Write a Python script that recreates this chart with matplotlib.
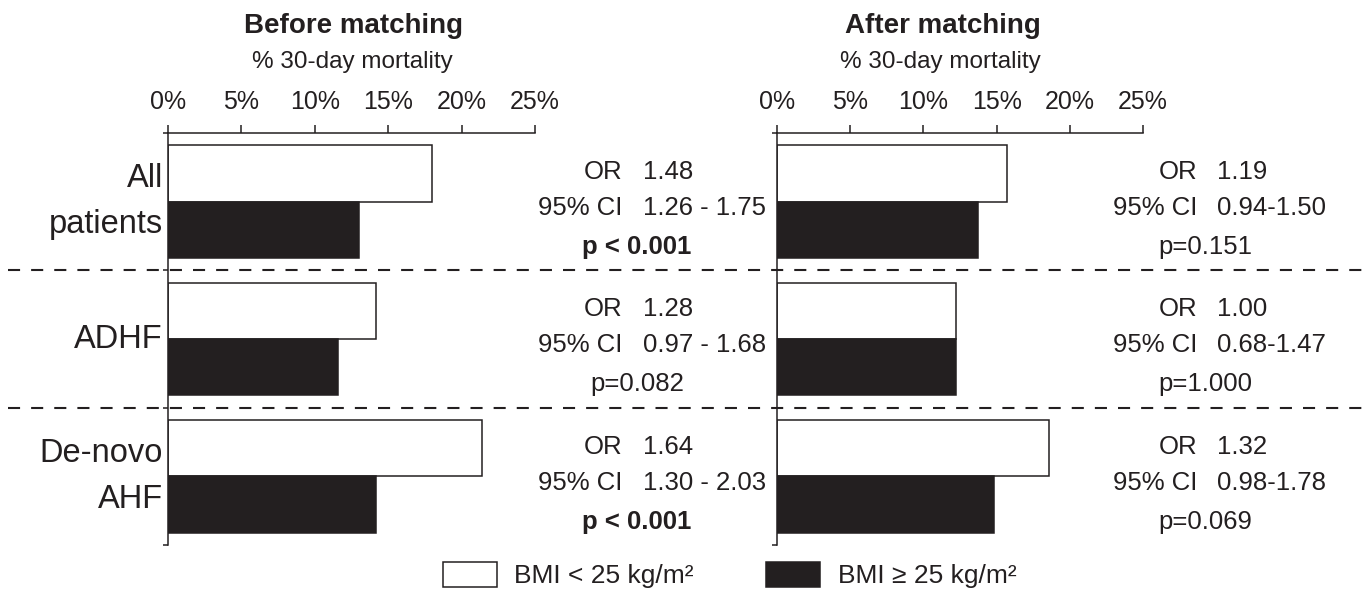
import numpy as np
import matplotlib
matplotlib.use('Agg')
import matplotlib.pyplot as plt
from matplotlib.lines import Line2D
from matplotlib.transforms import blended_transform_factory

plt.rcParams['font.family'] = ['Liberation Sans', 'DejaVu Sans']

# ---------------------------------------------------------------------------
# Data (% 30-day mortality)
# ---------------------------------------------------------------------------
groups = ['All\npatients', 'ADHF', 'De-novo\nAHF']

before_low = [18.0, 14.2, 21.4]     # BMI < 25
before_high = [13.0, 11.6, 14.2]    # BMI >= 25
after_low = [15.7, 12.2, 18.6]
after_high = [13.7, 12.2, 14.8]

before_or = ['1.48', '1.28', '1.64']
before_ci = ['1.26 - 1.75', '0.97 - 1.68', '1.30 - 2.03']
before_p = ['p < 0.001', 'p=0.082', 'p < 0.001']
before_p_bold = [True, False, True]

after_or = ['1.19', '1.00', '1.32']
after_ci = ['0.94-1.50', '0.68-1.47', '0.98-1.78']
after_p = ['p=0.151', 'p=1.000', 'p=0.069']
after_p_bold = [False, False, False]

xticks = [0, 5, 10, 15, 20, 25]
xticklabels = ['0%', '5%', '10%', '15%', '20%', '25%']
legend_labels = ['BMI < 25 kg/m²', 'BMI ≥ 25 kg/m²']

# ---------------------------------------------------------------------------
# Layout
# ---------------------------------------------------------------------------
W, H = 1372, 590
ink = '#231f20'
lw = 1.1

fig = plt.figure(figsize=(W / 100, H / 100), dpi=100)
ax1 = fig.add_axes([168 / W, 1 - 545 / H, 367 / W, 412 / H])
ax2 = fig.add_axes([777 / W, 1 - 545 / H, 366 / W, 412 / H])

ypos = np.arange(len(groups)) + 0.5
bh = 0.41
px = 412 / 3  # pixels per group


def panel(ax, low, high, show_labels):
    ax.barh(ypos - bh / 2, low, height=bh, color='white', edgecolor=ink,
            linewidth=lw, label=legend_labels[0])
    ax.barh(ypos + bh / 2, high, height=bh, color=ink, edgecolor=ink,
            linewidth=lw, label=legend_labels[1])
    ax.set_xlim(0, 25)
    ax.set_ylim(3, 0)
    for s in ['right', 'bottom']:
        ax.spines[s].set_visible(False)
    for s in ['left', 'top']:
        ax.spines[s].set_linewidth(lw)
        ax.spines[s].set_color(ink)
    ax.xaxis.tick_top()
    ax.set_xticks(xticks)
    ax.set_xticklabels(xticklabels)
    ax.tick_params(axis='x', direction='out', length=5.8, width=lw,
                   pad=8, labelsize=18, colors=ink)
    ax.set_yticks([0, 1, 2, 3])
    ax.set_yticklabels([])
    ax.tick_params(axis='y', which='major', direction='out', length=3.6,
                   width=lw, colors=ink)
    ax.set_yticks(ypos, minor=True)
    if show_labels:
        ax.set_yticklabels(groups, minor=True, fontsize=23.5, color=ink,
                           linespacing=1.62, va='center')
    else:
        ax.set_yticklabels([], minor=True)
    ax.tick_params(axis='y', which='minor', length=0, pad=3.6)


panel(ax1, before_low, before_high, True)
panel(ax2, after_low, after_high, False)

# dashed separators across the whole figure
tr = blended_transform_factory(fig.transFigure, ax1.transData)
for yb in [1, 2]:
    fig.add_artist(Line2D([8 / W, 1], [yb, yb], transform=tr, color=ink,
                          lw=1.5, linestyle=(0, (5.8, 5.3))))

# statistics text
def stats(x_lab, x_val, x_p, ors, cis, ps, bold):
    for i, yc in enumerate(ypos):
        y_or = yc + (-32 + 9.5) / px
        y_ci = yc + (4 + 9.5) / px
        y_p = yc + (43 + 9.5) / px
        fig.text(x_lab / W, y_or, 'OR', transform=tr, ha='right',
                 va='baseline', fontsize=18.5, color=ink)
        fig.text(x_val / W, y_or, ors[i], transform=tr, ha='left',
                 va='baseline', fontsize=18.5, color=ink)
        fig.text(x_lab / W, y_ci, '95% CI', transform=tr, ha='right',
                 va='baseline', fontsize=18.5, color=ink)
        fig.text(x_val / W, y_ci, cis[i], transform=tr, ha='left',
                 va='baseline', fontsize=18.5, color=ink)
        fig.text(x_p / W, y_p, ps[i], transform=tr, ha='center',
                 va='baseline', fontsize=18.5, color=ink,
                 fontweight='bold' if bold[i] else 'normal')


stats(622, 643, 637, before_or, before_ci, before_p, before_p_bold)
stats(1197, 1217, 1205, after_or, after_ci, after_p, after_p_bold)

# titles
fig.text(354 / W, 1 - 33 / H, 'Before matching', ha='center', va='baseline',
         fontsize=20, fontweight='bold', color=ink)
fig.text(943 / W, 1 - 33 / H, 'After matching', ha='center', va='baseline',
         fontsize=20, fontweight='bold', color=ink)
fig.text(352 / W, 1 - 68 / H, '% 30-day mortality', ha='center',
         va='baseline', fontsize=17.5, color=ink)
fig.text(940 / W, 1 - 68 / H, '% 30-day mortality', ha='center',
         va='baseline', fontsize=17.5, color=ink)

# legend
handles, labels = ax1.get_legend_handles_labels()
fig.legend(handles, labels, loc='center left',
           bbox_to_anchor=(443 / W, 1 - 575 / H), ncol=2, frameon=False,
           fontsize=19, handlelength=2.05, handleheight=1.1,
           handletextpad=0.65, columnspacing=2.75, borderpad=0,
           borderaxespad=0, labelcolor=ink)

fig.savefig('out.png', dpi=100)
